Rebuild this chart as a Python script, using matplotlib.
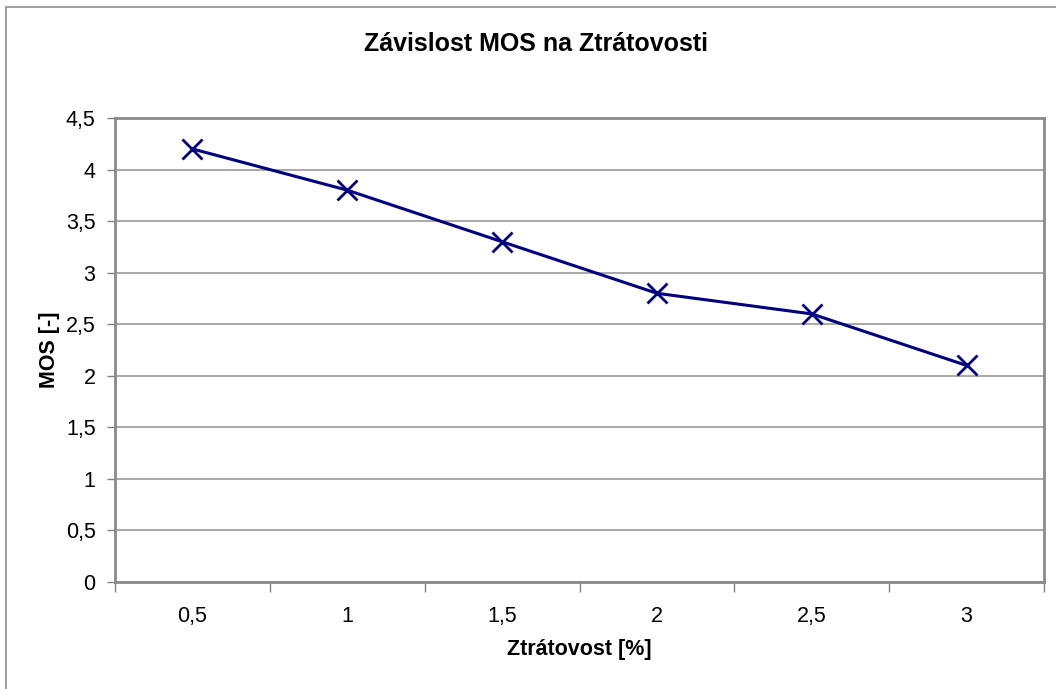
import matplotlib
matplotlib.use("Agg")
import matplotlib.pyplot as plt
from matplotlib.patches import Rectangle

categories = ["0,5", "1", "1,5", "2", "2,5", "3"]
mos = [4.2, 3.8, 3.3, 2.8, 2.6, 2.1]
y_ticks = [0, 0.5, 1, 1.5, 2, 2.5, 3, 3.5, 4, 4.5]
y_labels = ["0", "0,5", "1", "1,5", "2", "2,5", "3", "3,5", "4", "4,5"]

W, H = 1056, 689
plt.rcParams['font.family'] = ['Liberation Sans', 'DejaVu Sans']
fig = plt.figure(figsize=(W / 100, H / 100), dpi=100)

# outer chart frame (only left/top visible)
fig.patches.append(Rectangle((6 / W, -0.1), 1.2, 1 - 7 / H + 0.1, transform=fig.transFigure,
                             fill=False, edgecolor='#8c8c8c', linewidth=1.2))

left, right, top, bottom = 115, 1044, 118, 582
ax = fig.add_axes([left / W, 1 - bottom / H, (right - left) / W, (bottom - top) / H])

n = len(categories)
xs = [i + 0.5 for i in range(n)]
ax.plot(xs, mos, color='#000080', linewidth=2.2, marker='x', markersize=14,
        markeredgewidth=2.0, zorder=3)

ax.set_xlim(0, n)
ax.set_ylim(0, 4.5)
ax.set_yticks(y_ticks)
ax.set_yticklabels(y_labels, fontsize=15.5)
ax.set_xticks(range(n + 1))
ax.set_xticklabels([""] * (n + 1))
ax.set_xticks(xs, minor=True)
ax.set_xticklabels(categories, minor=True, fontsize=15.5)
ax.tick_params(axis='x', which='minor', length=0, pad=17)
ax.tick_params(axis='x', which='major', length=7, color='#808080', width=1)
ax.tick_params(axis='y', length=6, color='#808080', width=1, pad=8)

ax.grid(axis='y', color='#9a9a9a', linewidth=1.2)
ax.set_axisbelow(True)
for s in ax.spines.values():
    s.set_color('#8a8a8a')
    s.set_linewidth(2.0)

ax.set_xlabel("Ztrátovost [%]", fontsize=15.5, fontweight='bold', labelpad=9)
ax.set_ylabel("MOS [-]", fontsize=15.5, fontweight='bold', labelpad=4)
fig.text(536 / W, 1 - 44 / H, "Závislost MOS na Ztrátovosti", fontsize=18,
         fontweight='bold', ha='center', va='center')

fig.savefig("out.png", dpi=100)
